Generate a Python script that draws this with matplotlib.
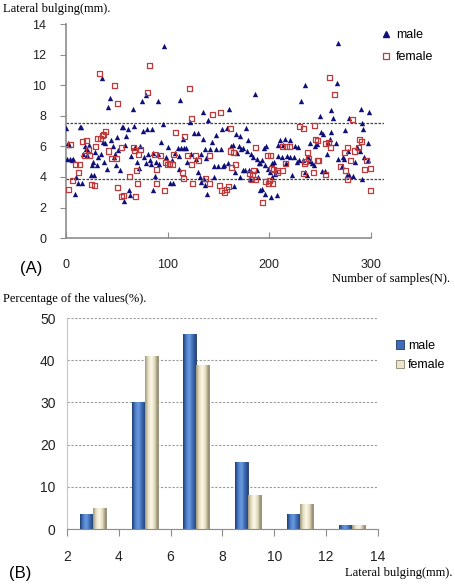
import numpy as np
import matplotlib
matplotlib.use('Agg')
import matplotlib.pyplot as plt
from matplotlib.colors import LinearSegmentedColormap
from matplotlib.lines import Line2D
from matplotlib.patches import Patch

###############################################################################
## data

# (A) scatter: sample index vs lateral bulging (mm)
male_x = [0, 1, 2, 3, 4, 6, 7, 9, 10, 12, 14, 15, 16, 17, 19, 20, 21, 22, 23, 25,
          26, 27, 28, 29, 31, 32, 34, 35, 36, 37, 38, 40, 41, 43, 44, 46, 47, 48, 49, 50,
          51, 53, 55, 56, 57, 58, 59, 61, 62, 63, 64, 66, 67, 68, 70, 72, 73, 75, 76, 77,
          79, 79, 80, 81, 83, 84, 85, 86, 86, 88, 89, 91, 91, 92, 94, 95, 96, 98, 100,
          102, 104, 105, 107, 110, 111, 111, 112, 113, 115, 116, 118, 119, 122, 123, 126,
          128, 130, 130, 132, 133, 133, 135, 135, 136, 137, 137, 138, 139, 140, 142, 144,
          146, 146, 148, 148, 150, 153,
          154, 155, 156, 158, 159, 160, 162, 164, 165, 166, 167, 168, 170, 171, 171, 172,
          174, 174, 176, 177, 178, 179, 180, 181, 182, 184, 186, 188, 188, 189, 190, 191,
          191, 193, 193, 195, 196, 196, 197, 199,
          201, 202, 203, 203, 205, 206, 207, 208, 209, 209, 211, 213, 214, 216, 217, 218,
          220, 220, 222, 224, 225, 227, 228, 229, 231, 233, 235, 235, 237, 238, 240, 240,
          242, 244, 245, 247, 252,
          250, 251, 253, 255, 257, 258, 260, 261, 261, 263, 266, 267, 268, 268, 272, 273,
          274, 275, 277, 278, 279, 279, 282, 284, 286, 289, 290, 291, 291, 292, 293, 297,
          297, 298]
male_y = [7.2, 5.2, 6.25, 6.1, 5.2, 5.1, 5.15, 2.9, 4.0, 3.6, 7.3, 7.25, 3.6, 5.5, 6.0, 5.8, 5.45, 5.7, 6.1, 4.1,
          4.8, 5.0, 4.1, 5.65, 4.8, 5.3, 5.5, 10.5, 6.3, 5.0, 6.25, 4.5, 8.6, 9.15, 6.4, 6.0, 5.3, 5.5, 4.8, 6.6,
          5.75, 4.45, 7.3, 7.3, 2.45, 6.1, 6.65, 7.17, 3.15, 2.8, 5.36, 8.47, 7.34, 5.97, 5.0, 4.6, 6.0, 8.97, 7.04, 5.3,
          9.37, 4.9, 7.17, 5.5, 5.1, 4.84, 7.17, 5.55, 3.16, 4.06, 5.0, 8.98, 5.5, 4.84, 6.3, 7.47, 12.57, 5.3, 5.95,
          3.6, 5.1, 3.6, 5.6, 5.88, 5.36, 4.5, 9.06, 5.88, 6.5, 5.88, 5.88, 5.0, 7.62, 5.5, 6.9,
          5.2, 6.85, 4.3, 4.0, 5.5, 3.7, 8.26, 6.5, 3.85, 5.8, 3.45, 5.25, 2.9, 7.76, 5.8, 6.3,
          4.75, 4.0, 6.76, 5.8, 4.75, 5.8,
          7.17, 4.75, 4.8, 7.2, 4.9, 8.47, 6.0, 6.1, 3.4, 4.3, 6.8, 5.6, 6.0, 6.7, 4.0, 5.8,
          5.9, 4.45, 4.45, 7.2, 5.7, 6.4, 4.45, 3.85, 5.5, 5.3, 9.45, 4.45, 5.2, 4.0, 4.9, 3.16,
          4.9, 5.1, 3.2, 5.9, 4.8, 2.88, 6.0, 4.5,
          4.3, 2.66, 4.9, 4.0, 5.0, 4.2, 4.4, 2.8, 6.1, 5.36, 6.4, 5.3, 6.08, 6.5, 4.9, 5.4,
          6.4, 5.3, 4.15, 5.33, 6.0, 5.0, 5.97, 5.1, 9.0, 5.1, 10.0, 4.3, 4.15, 5.3, 6.2, 5.05,
          4.9, 4.8, 6.0, 6.15, 4.4,
          8.0, 6.97, 6.84, 4.42, 5.5, 6.25, 6.5, 8.4, 6.96, 7.84, 6.2, 10.17, 12.77, 5.16, 4.7, 5.3,
          5.16, 7.06, 4.15, 5.7, 4.15, 7.84, 4.06, 5.0, 5.93, 5.7, 8.47, 7.55, 3.84, 7.14, 5.3, 6.2,
          5.1, 8.26]

female_x = [2, 4, 6, 9, 12, 13, 16, 18, 20, 22, 23, 25, 28, 29, 31, 33, 34, 36, 37, 39,
            42, 45, 48, 50, 51, 51,
            55, 55, 57, 63, 66, 67, 68, 69, 70, 71, 73, 80, 82, 87, 89, 89, 93, 97, 98, 100, 102,
            105, 106, 108, 115, 116, 117, 120, 122, 124, 124, 125, 127, 130, 137, 141, 141, 144,
            151, 152, 153,
            156, 158, 160, 162, 162, 163, 165, 167, 181, 183, 184, 185, 187, 187, 193, 196, 198,
            199, 200, 201, 202, 203,
            204, 208, 208, 213, 213, 216, 217, 220, 230, 234, 234, 235, 236, 238, 239, 244, 245,
            246, 248, 248, 249,
            255, 255, 258, 259, 260, 264, 270, 274, 275, 277, 277, 280, 282, 284, 288, 289, 291,
            294, 296, 300, 300]
female_y = [3.2, 6.1, 3.8, 4.8, 4.3, 4.8, 6.3, 5.4, 6.4, 5.8, 5.4, 3.5, 3.45, 6.0, 6.5, 10.8, 6.5, 6.7, 6.8, 7.0,
            5.7, 5.2, 10.0, 5.2, 8.8, 3.3,
            5.95, 2.75, 2.8, 4.0, 5.9, 5.75, 2.7, 4.4, 3.6, 5.5, 5.8, 9.52, 11.29, 5.45, 4.5, 3.6, 5.4, 3.1, 4.97, 4.84, 4.9,
            4.84, 5.5, 6.9, 4.3, 3.9, 6.67, 5.4, 9.8, 7.8, 4.84, 3.6, 5.4, 5.1, 3.9, 5.4, 3.6, 8.1,
            3.45, 8.2, 3.1,
            3.0, 3.15, 3.4, 7.2, 5.7, 4.6, 5.58, 4.8, 4.2, 3.85, 4.15, 4.45, 5.93, 3.85, 2.3, 3.7, 5.4,
            3.55, 3.75, 5.38, 4.55, 3.6,
            4.5, 4.3, 4.45, 4.4, 5.97, 4.9, 5.97, 5.97, 7.3, 7.2, 4.25, 4.85, 5.0, 5.6, 5.2, 4.3, 7.36,
            6.45, 5.1, 6.4, 5.05,
            6.2, 4.15, 6.24, 10.5, 5.93, 9.39, 4.7, 5.6, 4.42, 3.83, 5.9, 5.1, 7.76, 5.7, 5.93, 6.45, 6.3,
            4.5, 5.1, 4.55, 3.1]

# reference lines (mm)
upper_limit = 7.52
lower_limit = 3.87

# (B) histogram: bin centres (mm) and percentage of values
bin_centers = [3, 5, 7, 9, 11, 13]
male_pct = [3.5, 30.2, 46.3, 16.0, 3.5, 1.0]
female_pct = [5.0, 41.0, 39.0, 8.0, 6.0, 1.0]

###############################################################################

serif = 'Liberation Serif'
sans = 'Liberation Sans'
plt.rcParams['font.family'] = sans
axis_grey = '#8c8c8c'

fig = plt.figure(figsize=(4.55, 5.88), dpi=100)

####################
## (A) scatter    ##
####################

ax1 = fig.add_axes([0.145, 0.595, 0.699, 0.364])
ax1.scatter(male_x, male_y, marker='^', s=15, color='#10107a', linewidths=0, zorder=3)
ax1.scatter(female_x, female_y, marker='s', s=13, facecolors='none',
            edgecolors='#c0393b', linewidths=0.9, zorder=3)
ax1.axhline(upper_limit, color='#404040', ls=(0, (2, 1.2)), lw=0.9, zorder=2)
ax1.axhline(lower_limit, color='#404040', ls=(0, (2, 1.2)), lw=0.9, zorder=2)

ax1.set_xlim(0, 313)
ax1.set_ylim(0, 14)
ax1.set_xticks([0, 100, 200, 300])
ax1.set_yticks(range(0, 15, 2))
for s in ['top', 'right']:
    ax1.spines[s].set_visible(False)
for s in ['left', 'bottom']:
    ax1.spines[s].set_color(axis_grey)
    ax1.spines[s].set_linewidth(1.2)
ax1.spines['bottom'].set_bounds(0, 300)
ax1.tick_params(axis='y', direction='out', length=4, color=axis_grey,
                labelsize=9, labelcolor='#222222', pad=10)
ax1.tick_params(axis='x', direction='in', length=4, color=axis_grey,
                labelsize=9, labelcolor='#222222', pad=15)

leg1 = ax1.legend(handles=[Line2D([], [], ls='none', marker='^', ms=4.5, color='#10107a'),
                           Line2D([], [], ls='none', marker='s', ms=4, mfc='none',
                                  mec='#c0393b', mew=0.9)],
                  labels=['male', 'female'], loc='upper left', bbox_to_anchor=(0.975, 1.0),
                  frameon=False, fontsize=9, handlelength=0.8, handletextpad=0.4,
                  labelspacing=0.8, borderaxespad=0.0)

fig.text(0.006, 0.984, 'Lateral bulging(mm).', family=serif, fontsize=9, va='center')
fig.text(0.045, 0.543, '(A)', fontsize=12, va='center')
fig.text(0.99, 0.525, 'Number of samples(N).', family=serif, fontsize=9,
         ha='right', va='center')

####################
## (B) histogram  ##
####################

ax2 = fig.add_axes([0.1466, 0.1003, 0.6844, 0.3587])
ax2.set_axisbelow(True)
ax2.yaxis.grid(True, color='#9a9a9a', ls=(0, (2, 1.5)), lw=0.8)

bw = 0.5
centers = np.array(bin_centers, dtype=float)
male_bars = ax2.bar(centers - bw / 2, male_pct, width=bw, color='#3d6cb8',
                    edgecolor='#1e3766', linewidth=0.6, zorder=2)
female_bars = ax2.bar(centers + bw / 2, female_pct, width=bw, color='#ece5cc',
                      edgecolor='#8a826a', linewidth=0.6, zorder=2)

# cylinder-like shading across each bar
male_cmap = LinearSegmentedColormap.from_list(
    'male', ['#1d3a70', '#4f7fcb', '#6b9be0', '#3f6db6', '#25467f'])
female_cmap = LinearSegmentedColormap.from_list(
    'female', ['#9e9678', '#e9e2c6', '#fdf9ea', '#e2dabd', '#8f876c'])
grad = np.linspace(0, 1, 64).reshape(1, -1)
for bars, cmap in [(male_bars, male_cmap), (female_bars, female_cmap)]:
    for b in bars:
        x0, w, h = b.get_x(), b.get_width(), b.get_height()
        im = ax2.imshow(grad, cmap=cmap, extent=(x0, x0 + w, 0, h), aspect='auto',
                        zorder=2.5, interpolation='bicubic')
        im.set_clip_path(b)

ax2.set_xlim(2, 14)
ax2.set_ylim(0, 50)
ax2.set_xticks(range(2, 15, 2))
ax2.set_yticks(range(0, 51, 10))
for s in ['top', 'right']:
    ax2.spines[s].set_visible(False)
ax2.spines['left'].set_color('#c8c8c8')
ax2.spines['bottom'].set_color('#8c8c8c')
ax2.tick_params(axis='y', length=0, labelsize=10, labelcolor='#222222', pad=8)
ax2.tick_params(axis='x', direction='out', length=5, color='#8c8c8c',
                labelsize=10, labelcolor='#222222', pad=10)

leg2 = ax2.legend(handles=[Patch(facecolor='#3d6cb8', edgecolor='#1e3766', lw=0.6),
                           Patch(facecolor='#ece5cc', edgecolor='#8a826a', lw=0.6)],
                  labels=['male', 'female'], loc='upper left', bbox_to_anchor=(1.04, 0.92),
                  frameon=False, fontsize=9, handlelength=0.7, handleheight=0.7,
                  handletextpad=0.3, labelspacing=0.6, borderaxespad=0.0)

fig.text(0.006, 0.491, 'Percentage of the values(%).', family=serif, fontsize=9, va='center')
fig.text(0.02, 0.025, '(B)', fontsize=12, va='center')
fig.text(0.995, 0.025, 'Lateral bulging(mm).', family=serif, fontsize=9,
         ha='right', va='center')

fig.savefig('out.png', dpi=100)
